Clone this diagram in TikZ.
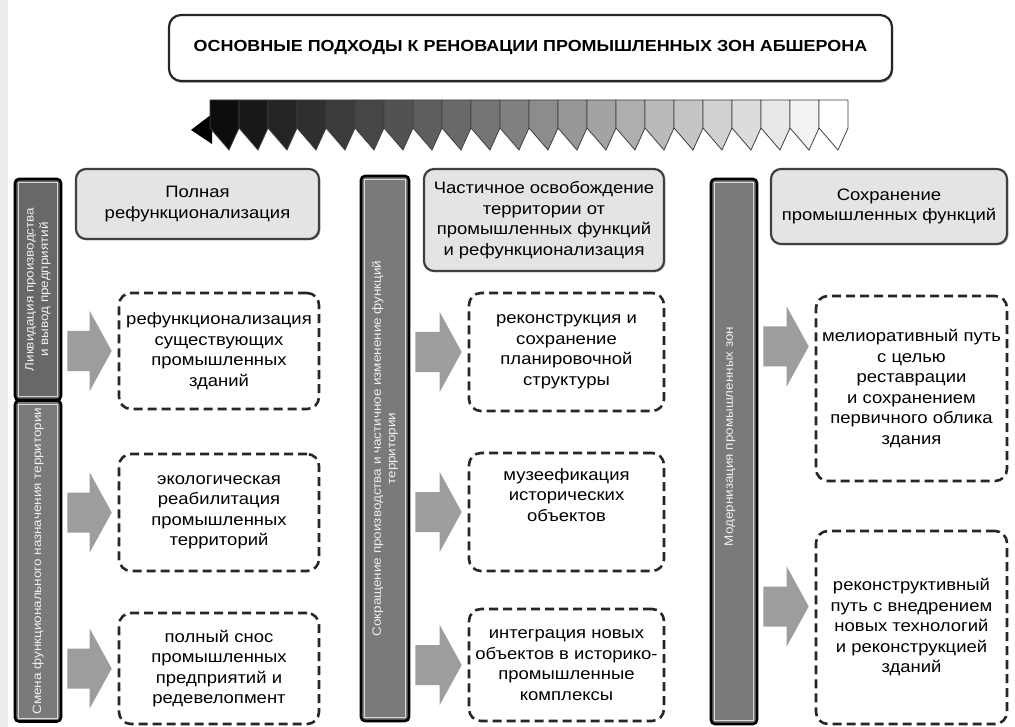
\documentclass[tikz,border=0pt]{standalone}
\usepackage{fontspec}
\setmainfont{Liberation Sans}[FakeStretch=1.12]
\usetikzlibrary{calc,shadows}
\definecolor{bargray}{HTML}{7A7A7A}
\definecolor{bardark}{HTML}{686868}
\definecolor{hdrgray}{HTML}{E4E4E4}
\definecolor{arrgray}{HTML}{9D9D9D}
\newcommand{\boxfont}{\fontsize{16.5}{20.5}\selectfont}
\newcommand{\ttlfont}{\fontsize{16}{20}\selectfont\bfseries}
\newcommand{\barfont}{\fontsize{12}{14.5}\selectfont}
\tikzset{
 ttl/.style={draw=black!85,line width=2.2pt,rounded corners=12pt,fill=white,
  minimum width=723pt,minimum height=66pt,
  drop shadow={shadow xshift=1pt,shadow yshift=-2pt,fill=black!55}},
 hdr/.style={draw=black!75,line width=2.2pt,rounded corners=10pt,fill=hdrgray,
  align=center,font=\boxfont,inner sep=1pt,
  drop shadow={shadow xshift=1.5pt,shadow yshift=-1.5pt,fill=black!35}},
 dbox/.style={draw=black!85,line width=2.6pt,dash pattern=on 9pt off 5pt,
  rounded corners=12pt,fill=white,align=center,font=\boxfont,inner sep=1pt},
 vbar/.style={draw=black,line width=2.6pt,rounded corners=4pt,fill=bargray,
  minimum width=46pt},
 bartext/.style={rotate=90,text=white!88!gray,font=\barfont,align=center}
}
% block arrow from a bar to a point on a box
\newcommand{\blockarr}[2]{%
 \fill[arrgray] let \p1=(#1.east), \p2=(#2) in
  (\x1+5pt,\y2+20pt) -- (\x2-28pt,\y2+20pt) -- (\x2-28pt,\y2+40pt) -- (\x2-6pt,\y2)
  -- (\x2-28pt,\y2-40pt) -- (\x2-28pt,\y2-20pt) -- (\x1+5pt,\y2-20pt) -- cycle;}
% thin light line inside a bar
\newcommand{\innerline}[1]{%
 \draw[white!70!gray,line width=.6pt] ($(#1.north west)+(5,5)$) rectangle ($(#1.south east)+(-5,-5)$);}
\begin{document}
\begin{tikzpicture}[x=1pt,y=-1pt]
\useasboundingbox[fill=white] (0,0) rectangle (1015,727);
\fill[black!7] (0,0) rectangle (8,727);

% title
\node[ttl,font=\ttlfont] (ttl) at (530.5,48) {ОСНОВНЫЕ ПОДХОДЫ К РЕНОВАЦИИ ПРОМЫШЛЕННЫХ ЗОН АБШЕРОНА};

% gradient band
\fill[black] (212,114) -- (191,130) -- (212,144) -- cycle;
\foreach \i in {0,...,21}{
  \pgfmathsetmacro\xa{210+29*\i}
  \pgfmathsetmacro\xb{\xa+29}
  \pgfmathsetmacro\xm{\xa+19}
  \pgfmathsetmacro\gr{95-95*\i/21}
  \filldraw[fill=black!\gr!white,draw=black!75,line width=.8pt]
   (\xa,100) -- (\xb,100) -- (\xb,128) -- (\xm,150) -- (\xa,128) -- cycle;
}

% bars
\node[vbar,fill=bardark,minimum height=221pt] (bl1) at (38,289.5) {};
\node[vbar,minimum height=321pt] (bl2) at (38,561) {};
\node[vbar,minimum width=48pt,minimum height=545pt] (bm) at (385,448.5) {};
\node[vbar,minimum height=545pt] (br) at (734,451.5) {};
\innerline{bl1} \innerline{bl2} \innerline{bm} \innerline{br}
\node[bartext] (tl1) at (bl1) {Ликвидация производства\\и вывод предприятий};
\node[bartext] (tl2) at (bl2) {Смена функционального назначения территории};
\node[bartext] (tm) at (bm) {Сокращение производства и частичное изменение функций\\территории};
\node[bartext] (tr) at ($(br)+(-4,-15)$) {Модернизация промышленных зон};

% headers
\node[hdr,minimum width=243pt,minimum height=70pt] (h1) at (197.5,204)
 {Полная\\рефункционализация};
\node[hdr,minimum width=240pt,minimum height=102pt] (h2) at (544,220)
 {Частичное освобождение\\территории от\\промышленных функций\\и рефункционализация};
\node[hdr,minimum width=236pt,minimum height=75pt] (h3) at (889,206.5)
 {Сохранение\\промышленных функций};

% boxes
\node[dbox,minimum width=200pt,minimum height=116pt] (b11) at (219,351)
 {рефункционализация\\существующих\\промышленных\\зданий};
\node[dbox,minimum width=200pt,minimum height=117pt] (b12) at (219,512.5)
 {экологическая\\реабилитация\\промышленных\\территорий};
\node[dbox,minimum width=200pt,minimum height=111pt] (b13) at (219,668.5)
 {полный снос\\промышленных\\предприятий и\\редевелопмент};
\node[dbox,minimum width=195pt,minimum height=118pt] (b21) at (566.5,352)
 {реконструкция и\\сохранение\\планировочной\\структуры};
\node[dbox,minimum width=195pt,minimum height=118pt] (b22) at (566.5,512)
 {музеефикация\\исторических\\объектов\\[14pt]};
\node[dbox,minimum width=195pt,minimum height=112pt] (b23) at (566.5,665)
 {интеграция новых\\объектов в историко-\\промышленные\\комплексы};
\node[dbox,minimum width=191pt,minimum height=185pt] (b31) at (911.5,388.5)
 {мелиоративный путь\\с целью\\реставрации\\и сохранением\\первичного облика\\здания};
\node[dbox,minimum width=191pt,minimum height=193pt] (b32) at (911.5,627.5)
 {реконструктивный\\путь с внедрением\\новых технологий\\и реконструкцией\\зданий};

% arrows
\blockarr{bl1}{b11.west}
\blockarr{bl2}{b12.west}
\blockarr{bl2}{b13.west}
\blockarr{bm}{b21.west}
\blockarr{bm}{b22.west}
\blockarr{bm}{b23.west}
\blockarr{br}{$(b31.west)+(0,-42)$}
\blockarr{br}{$(b32.west)+(0,-21)$}
\end{tikzpicture}
\end{document}
